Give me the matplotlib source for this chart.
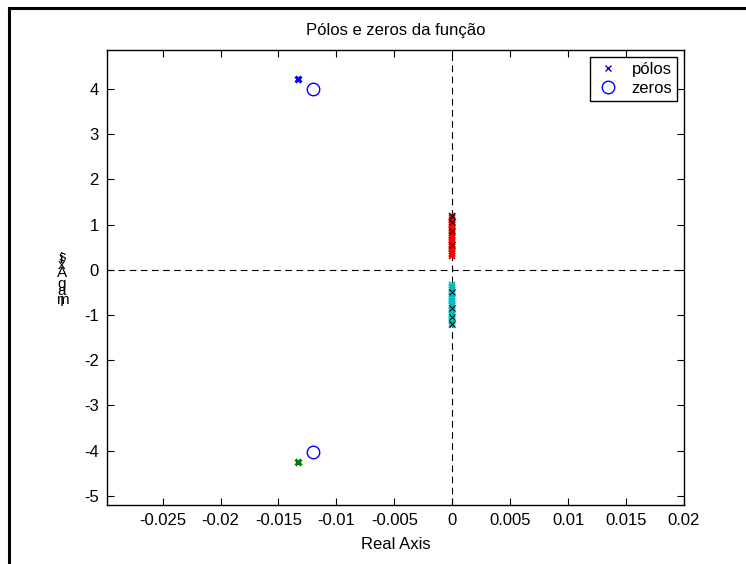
import matplotlib.pyplot as plt
from matplotlib.lines import Line2D

plt.rcParams["font.family"] = ["Liberation Sans", "DejaVu Sans"]
plt.rcParams["axes.unicode_minus"] = False

# polos dominantes (complexos conjugados)
pole_top = (-0.0133, 4.21)
pole_bottom = (-0.0133, -4.25)

# zeros
zeros_re = [-0.0120, -0.0120]
zeros_im = [4.00, -4.02]

# aglomerado de polos perto do eixo imaginario
red_im = [0.30, 0.34, 0.38, 0.42, 0.46, 0.50, 0.54, 0.58, 0.62, 0.66, 0.70,
          0.74, 0.78, 0.82, 0.86, 0.90, 0.94, 0.98, 1.02, 1.06, 1.10, 1.14, 1.19]
cyan_im = [-0.33, -0.37, -0.41, -0.45, -0.49, -0.53, -0.57, -0.61, -0.65,
           -0.69, -0.73, -0.77, -0.81, -0.85, -0.89, -0.93, -0.97, -1.01,
           -1.05, -1.09, -1.13, -1.17, -1.22]
black_im = [1.20, 1.05, 0.85, 0.55, -0.50, -0.85, -1.05, -1.20]

xticks = [-0.025, -0.02, -0.015, -0.01, -0.005, 0, 0.005, 0.01, 0.015, 0.02]
xticklabels = ["-0.025", "-0.02", "-0.015", "-0.01", "-0.005", "0",
               "0.005", "0.01", "0.015", "0.02"]
yticks = [-5, -4, -3, -2, -1, 0, 1, 2, 3, 4]

fig = plt.figure(figsize=(7.46, 5.64), dpi=100)
ax = fig.add_axes([107 / 746, 1 - 505 / 564, 577 / 746, 455 / 564])

ax.axhline(0, color="black", linestyle=(0, (6, 4)), linewidth=0.8, zorder=1)
ax.axvline(0, color="black", linestyle=(0, (6, 4)), linewidth=0.8, zorder=1)

ax.plot([0] * len(red_im), red_im, "x", color="red", markersize=5, mew=1.3, zorder=2)
ax.plot([0] * len(cyan_im), cyan_im, "x", color="#00c0c0", markersize=5, mew=1.3, zorder=2)
ax.plot([0] * len(black_im), black_im, "x", color="black", markersize=4, mew=0.7, zorder=3)

ax.plot(*pole_top, "x", color="blue", markersize=5, mew=2.2, zorder=3)
ax.plot(*pole_bottom, "x", color="green", markersize=5, mew=2.2, zorder=3)
ax.plot(zeros_re, zeros_im, "o", mfc="none", mec="blue", markersize=9, mew=1.0, zorder=3)

h_p = Line2D([], [], marker="x", color="blue", linestyle="none", markersize=5, mew=1.0)
h_z = Line2D([], [], marker="o", mfc="none", mec="blue", linestyle="none", markersize=9, mew=1.0)
ax.legend([h_p, h_z], ["pólos", "zeros"], loc="upper right", fontsize=12,
          fancybox=False, edgecolor="black", framealpha=1, borderpad=0.3,
          handletextpad=0.6, labelspacing=0.25, borderaxespad=0.4,
          handlelength=1.6)

ax.set_xlim(-0.0298, 0.02)
ax.set_ylim(-5.2, 4.86)
ax.set_xticks(xticks)
ax.set_xticklabels(xticklabels)
ax.set_yticks(yticks)
ax.tick_params(direction="in", top=True, right=True, length=5, width=0.8,
               labelsize=12, pad=6)
for s in ax.spines.values():
    s.set_linewidth(1.0)

ax.set_title("Pólos e zeros da função", fontsize=12, pad=11)
ax.set_xlabel("Real Axis", fontsize=12, labelpad=6)

# rotulo do eixo y com letras empilhadas
ylab = "Imag Axis"
ypix = [302, 300, 291, 284, 279, 273, 265, 259, 257]
for ch, yp in zip(ylab, ypix):
    fig.text(62 / 746, 1 - yp / 564, ch, fontsize=11, ha="center", va="center")

# moldura da figura
fig.add_artist(Line2D([9 / 746, 9 / 746], [0, 1 - 8 / 564], color="black", linewidth=2.2))
fig.add_artist(Line2D([9 / 746, 1], [1 - 8 / 564, 1 - 8 / 564], color="black", linewidth=2.2))

fig.savefig("out.png", dpi=100)
